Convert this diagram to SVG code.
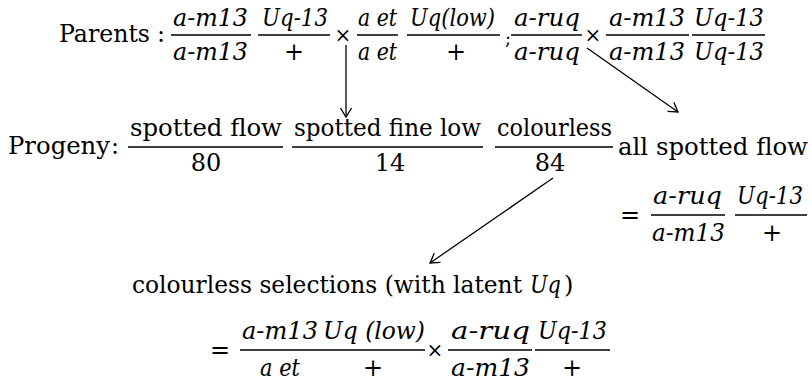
<svg xmlns="http://www.w3.org/2000/svg" width="812" height="381" viewBox="0 0 812 381">
<style>
text{font-family:"DejaVu Serif","Liberation Serif",serif;font-size:24px;fill:#000}
.i{font-style:italic}
.m{text-anchor:middle}
.op{font-size:20px;text-anchor:middle}
.bar{stroke:#000;stroke-width:1.6}
.cn{stroke:#000;stroke-width:1.3;fill:none}
</style>
<defs>
<marker id="arr" viewBox="0 0 12 12" refX="11" refY="6" markerWidth="12" markerHeight="12" markerUnits="userSpaceOnUse" orient="auto">
<path d="M2,0.5 L11,6 L2,11.5" fill="none" stroke="#000" stroke-width="1.3"/>
</marker>
</defs>
<rect width="812" height="381" fill="#fff"/>

<g id="parents">
<text x="59" y="42" textLength="91" lengthAdjust="spacingAndGlyphs">Parents</text>
<text x="157" y="42">:</text>
<text class="i" x="173" y="26" textLength="75" lengthAdjust="spacingAndGlyphs">a-m13</text>
<line class="bar" x1="171" y1="35" x2="251" y2="35"/>
<text class="i" x="173" y="60" textLength="75" lengthAdjust="spacingAndGlyphs">a-m13</text>
<text class="i" x="262" y="26" textLength="66" lengthAdjust="spacingAndGlyphs">Uq-13</text>
<line class="bar" x1="258" y1="35" x2="330" y2="35"/>
<text class="m" x="294" y="60">+</text>
<text class="op" x="343" y="42">×</text>
<text class="i" x="358" y="26" textLength="39" lengthAdjust="spacingAndGlyphs">a et</text>
<line class="bar" x1="357" y1="35" x2="398" y2="35"/>
<text class="i" x="358" y="60" textLength="39" lengthAdjust="spacingAndGlyphs">a et</text>
<text class="i" x="410" y="26" textLength="85" lengthAdjust="spacingAndGlyphs">Uq(low)</text>
<line class="bar" x1="407" y1="35" x2="500" y2="35"/>
<text class="m" x="456" y="60">+</text>
<text x="505" y="45" style="font-size:18px">;</text>
<text class="i" x="514" y="26" textLength="66" lengthAdjust="spacingAndGlyphs">a-ruq</text>
<line class="bar" x1="511" y1="35" x2="582" y2="35"/>
<text class="i" x="514" y="60" textLength="66" lengthAdjust="spacingAndGlyphs">a-ruq</text>
<text class="op" x="593" y="42">×</text>
<text class="i" x="609" y="26" textLength="76" lengthAdjust="spacingAndGlyphs">a-m13</text>
<line class="bar" x1="606" y1="35" x2="689" y2="35"/>
<text class="i" x="609" y="60" textLength="76" lengthAdjust="spacingAndGlyphs">a-m13</text>
<text class="i" x="694" y="26" textLength="70" lengthAdjust="spacingAndGlyphs">Uq-13</text>
<line class="bar" x1="692" y1="35" x2="765" y2="35"/>
<text class="i" x="694" y="60" textLength="70" lengthAdjust="spacingAndGlyphs">Uq-13</text>
</g>

<g id="progeny">
<text x="8" y="154" textLength="102" lengthAdjust="spacingAndGlyphs">Progeny</text>
<text x="111" y="154">:</text>
<text x="130" y="136" textLength="152" lengthAdjust="spacingAndGlyphs">spotted flow</text>
<line class="bar" x1="128" y1="147" x2="283" y2="147"/>
<text class="m" x="206" y="171">80</text>
<text x="294" y="136" textLength="187" lengthAdjust="spacingAndGlyphs">spotted fine low</text>
<line class="bar" x1="292" y1="147" x2="483" y2="147"/>
<text class="m" x="390" y="171">14</text>
<text x="497" y="136" textLength="115" lengthAdjust="spacingAndGlyphs">colourless</text>
<line class="bar" x1="495" y1="147" x2="613" y2="147"/>
<text class="m" x="550" y="171">84</text>
</g>

<g id="all-spotted">
<text x="618" y="155" textLength="190" lengthAdjust="spacingAndGlyphs">all spotted flow</text>
<text class="m" x="630" y="223">=</text>
<text class="i" x="653" y="204" textLength="69" lengthAdjust="spacingAndGlyphs">a-ruq</text>
<line class="bar" x1="651" y1="215" x2="725" y2="215"/>
<text class="i" x="652" y="241" textLength="73" lengthAdjust="spacingAndGlyphs">a-m13</text>
<text class="i" x="737" y="204" textLength="66" lengthAdjust="spacingAndGlyphs">Uq-13</text>
<line class="bar" x1="735" y1="215" x2="807" y2="215"/>
<text class="m" x="772" y="241">+</text>
</g>

<g id="colourless">
<text x="132" y="293" textLength="390" lengthAdjust="spacingAndGlyphs">colourless selections (with latent</text>
<text class="i" x="530" y="293" textLength="31" lengthAdjust="spacingAndGlyphs">Uq</text>
<text x="564" y="293">)</text>
<text class="m" x="220" y="358">=</text>
<text class="i" x="242" y="339" textLength="76" lengthAdjust="spacingAndGlyphs">a-m13</text>
<line class="bar" x1="240" y1="350" x2="320" y2="350"/>
<text class="i" x="260" y="376" textLength="40" lengthAdjust="spacingAndGlyphs">a et</text>
<text class="i" x="323" y="339" textLength="102" lengthAdjust="spacingAndGlyphs">Uq (low)</text>
<line class="bar" x1="320" y1="350" x2="425" y2="350"/>
<text class="m" x="373" y="376">+</text>
<text class="op" x="435" y="357">×</text>
<text class="i" x="451" y="339" textLength="79" lengthAdjust="spacingAndGlyphs">a-ruq</text>
<line class="bar" x1="448" y1="350" x2="532" y2="350"/>
<text class="i" x="451" y="376" textLength="79" lengthAdjust="spacingAndGlyphs">a-m13</text>
<text class="i" x="538" y="339" textLength="69" lengthAdjust="spacingAndGlyphs">Uq-13</text>
<line class="bar" x1="535" y1="350" x2="610" y2="350"/>
<text class="m" x="572" y="376">+</text>
</g>

<g id="connectors">
<line class="cn" x1="346" y1="45" x2="346" y2="117" marker-end="url(#arr)"/>
<line class="cn" x1="587" y1="48" x2="678" y2="112" marker-end="url(#arr)"/>
<line class="cn" x1="553" y1="178" x2="430" y2="263" marker-end="url(#arr)"/>
</g>
</svg>
